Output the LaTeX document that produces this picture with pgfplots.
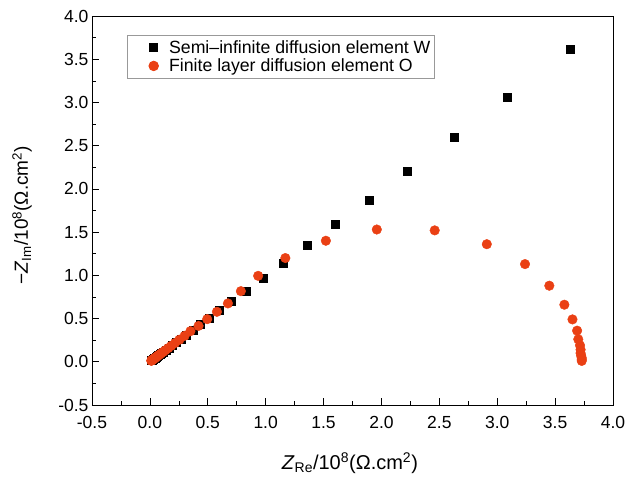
\documentclass[border=0pt]{standalone}
\usepackage{pgfplots}
\pgfplotsset{compat=1.18}
\usepackage{fontspec}
\setmainfont{Liberation Sans}
\definecolor{redO}{RGB}{234,64,20}
\begin{document}
\begin{tikzpicture}
\begin{axis}[
  at={(0,0)}, anchor=south west,
  width=521pt, height=389pt, scale only axis,
  xmin=-0.5, xmax=4, ymin=-0.5, ymax=4,
  xtick distance=0.5, ytick distance=0.5,
  minor x tick num=1, minor y tick num=1,
  tick align=inside, tick pos=left,
  major tick length=7pt, minor tick length=4pt,
  axis line style={line width=0.8pt},
  every tick/.style={line width=0.6pt, black},
  tick label style={font=\fontsize{17.5}{20}\selectfont},
  xticklabel style={yshift=-8pt},
  /pgf/number format/assume math mode=true,
  /pgf/number format/fixed, /pgf/number format/fixed zerofill,
  /pgf/number format/precision=1,
  xlabel={\textit{Z}\textsubscript{Re}/10\textsuperscript{8}(Ω.cm\textsuperscript{2})},
  ylabel={−\textit{Z}\textsubscript{Im}/10\textsuperscript{8}(Ω.cm\textsuperscript{2})},
  xlabel style={at={(axis description cs:0.495,-0.149)}, anchor=center, font=\fontsize{20}{23}\selectfont},
  ylabel style={at={(axis description cs:-0.134,0.488)}, anchor=center, font=\fontsize{19}{22}\selectfont},
  legend style={at={(0.067,0.951)}, anchor=north west, draw=gray!80, line width=0.8pt,
    font=\fontsize{17.7}{21}\selectfont, inner xsep=2pt, inner ysep=3pt, row sep=0pt, cells={anchor=west}},
  legend cell align=left,
  legend image code/.code={\path (-24pt,0pt) (13pt,0pt); \draw[#1] plot coordinates {(0pt,0pt)};},
]
\addplot[only marks, mark=square*, mark size=4pt, black] coordinates {
(3.63,3.62) (3.09,3.06) (2.63,2.60) (2.22,2.20) (1.89,1.87) (1.60,1.59)
(1.36,1.35) (1.15,1.14) (0.98,0.965) (0.83,0.82) (0.705,0.70) (0.60,0.595)
(0.51,0.505) (0.435,0.43) (0.37,0.365) (0.315,0.31) (0.267,0.263) (0.227,0.224)
(0.193,0.19) (0.164,0.161) (0.139,0.137) (0.118,0.116) (0.10,0.099) (0.085,0.084)
(0.072,0.071) (0.061,0.060) (0.052,0.051) (0.044,0.043) (0.037,0.037) (0.032,0.031)
(0.027,0.026) (0.023,0.022) (0.019,0.019) (0.016,0.016) (0.014,0.014)
};
\addlegendentry{Semi–infinite diffusion element W}
\addplot[only marks, mark=*, mark size=4.8pt, redO, mark options={draw=redO, fill=redO}] coordinates {
(0.012,0.012) (0.014,0.014) (0.016,0.016) (0.019,0.019) (0.022,0.022) (0.026,0.026)
(0.031,0.031) (0.036,0.036) (0.043,0.043) (0.050,0.050) (0.059,0.059) (0.070,0.070)
(0.082,0.082) (0.096,0.096) (0.113,0.113) (0.133,0.133) (0.157,0.157) (0.185,0.185)
(0.217,0.217) (0.255,0.255) (0.30,0.30) (0.35,0.354) (0.42,0.415) (0.495,0.493)
(0.579,0.578) (0.674,0.675) (0.786,0.817) (0.935,0.994) (1.17,1.20) (1.52,1.40)
(1.96,1.53) (2.46,1.52) (2.91,1.36) (3.24,1.13) (3.45,0.88) (3.58,0.66)
(3.65,0.49) (3.69,0.36) (3.70,0.26) (3.715,0.19) (3.72,0.14) (3.72,0.10)
(3.725,0.07) (3.73,0.045) (3.73,0.025) (3.73,0.01)
};
\addlegendentry{Finite layer diffusion element O}
\end{axis}
\pgfresetboundingbox
\useasboundingbox (-92pt,-73pt) rectangle (537pt,405pt);
\end{tikzpicture}
\end{document}
